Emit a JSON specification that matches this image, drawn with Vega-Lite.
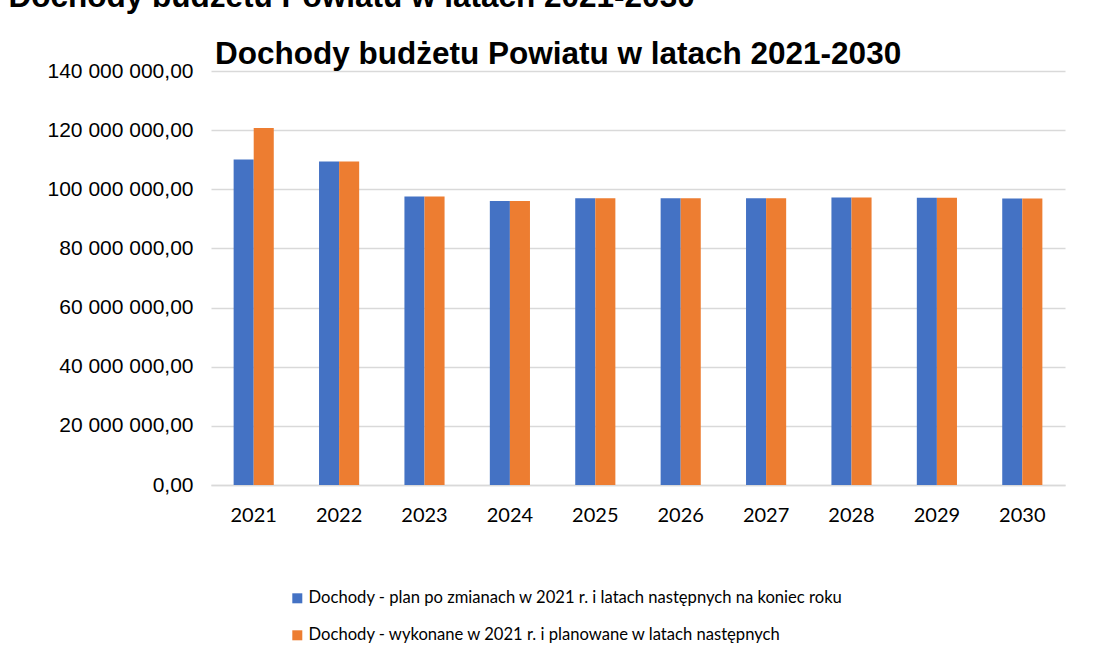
{
  "$schema": "https://vega.github.io/schema/vega-lite/v6.json",
  "autosize": {"type": "none"},
  "width": 854,
  "height": 414,
  "padding": {"left": 211, "top": 71, "right": 34, "bottom": 171},
  "background": "white",
  "title": {
    "text": "Dochody budżetu Powiatu w latach 2021-2030",
    "anchor": "start",
    "frame": "group",
    "font": "Liberation Sans",
    "fontSize": 31.5,
    "fontWeight": "bold",
    "color": "#000000",
    "baseline": "alphabetic",
    "offset": 8,
    "dx": 4,
    "dy": 122
  },
  "config": {
    "view": {"stroke": null},
    "axis": {"labelFont": "Liberation Sans", "labelColor": "#000000"},
    "legend": {"labelFont": "Lato", "labelColor": "#000000"}
  },
  "data": {
    "values": [
      {"rok": "2021", "seria": "Dochody - plan po zmianach w 2021 r. i latach następnych na koniec roku", "wartosc": 110100000},
      {"rok": "2021", "seria": "Dochody - wykonane w 2021 r. i planowane w latach następnych", "wartosc": 120700000},
      {"rok": "2022", "seria": "Dochody - plan po zmianach w 2021 r. i latach następnych na koniec roku", "wartosc": 109400000},
      {"rok": "2022", "seria": "Dochody - wykonane w 2021 r. i planowane w latach następnych", "wartosc": 109400000},
      {"rok": "2023", "seria": "Dochody - plan po zmianach w 2021 r. i latach następnych na koniec roku", "wartosc": 97600000},
      {"rok": "2023", "seria": "Dochody - wykonane w 2021 r. i planowane w latach następnych", "wartosc": 97600000},
      {"rok": "2024", "seria": "Dochody - plan po zmianach w 2021 r. i latach następnych na koniec roku", "wartosc": 96000000},
      {"rok": "2024", "seria": "Dochody - wykonane w 2021 r. i planowane w latach następnych", "wartosc": 96000000},
      {"rok": "2025", "seria": "Dochody - plan po zmianach w 2021 r. i latach następnych na koniec roku", "wartosc": 97000000},
      {"rok": "2025", "seria": "Dochody - wykonane w 2021 r. i planowane w latach następnych", "wartosc": 97000000},
      {"rok": "2026", "seria": "Dochody - plan po zmianach w 2021 r. i latach następnych na koniec roku", "wartosc": 97000000},
      {"rok": "2026", "seria": "Dochody - wykonane w 2021 r. i planowane w latach następnych", "wartosc": 97000000},
      {"rok": "2027", "seria": "Dochody - plan po zmianach w 2021 r. i latach następnych na koniec roku", "wartosc": 97000000},
      {"rok": "2027", "seria": "Dochody - wykonane w 2021 r. i planowane w latach następnych", "wartosc": 97000000},
      {"rok": "2028", "seria": "Dochody - plan po zmianach w 2021 r. i latach następnych na koniec roku", "wartosc": 97200000},
      {"rok": "2028", "seria": "Dochody - wykonane w 2021 r. i planowane w latach następnych", "wartosc": 97200000},
      {"rok": "2029", "seria": "Dochody - plan po zmianach w 2021 r. i latach następnych na koniec roku", "wartosc": 97100000},
      {"rok": "2029", "seria": "Dochody - wykonane w 2021 r. i planowane w latach następnych", "wartosc": 97100000},
      {"rok": "2030", "seria": "Dochody - plan po zmianach w 2021 r. i latach następnych na koniec roku", "wartosc": 96900000},
      {"rok": "2030", "seria": "Dochody - wykonane w 2021 r. i planowane w latach następnych", "wartosc": 96900000}
    ]
  },
  "mark": {"type": "bar"},
  "encoding": {
    "x": {
      "field": "rok",
      "type": "nominal",
      "scale": {"paddingInner": 0.53, "paddingOuter": 0.265},
      "axis": {
        "title": null,
        "labelAngle": 0,
        "labelFont": "Lato",
        "labelFontSize": 20,
        "labelPadding": 20,
        "ticks": false,
        "domainColor": "#d9d9d9",
        "domainWidth": 1.5
      }
    },
    "xOffset": {"field": "seria", "type": "nominal"},
    "y": {
      "field": "wartosc",
      "type": "quantitative",
      "scale": {"domain": [0, 140000000]},
      "axis": {
        "title": "Dochody budżetu Powiatu w latach 2021-2030",
        "titleAngle": 0,
        "titleX": -203,
        "titleY": -65,
        "titleAlign": "left",
        "titleBaseline": "alphabetic",
        "titleFont": "Liberation Sans",
        "titleFontSize": 31.5,
        "titleFontWeight": "bold",
        "titleColor": "#000000",
        "values": [0, 20000000, 40000000, 60000000, 80000000, 100000000, 120000000, 140000000],
        "labelExpr": "replace(replace(replace(replace(format(datum.value, ',.2f'), /,/g, ' '), '.', ','), ' ', ' '), ' ', ' ')",
        "labelFontSize": 21,
        "labelPadding": 18,
        "ticks": false,
        "domain": false,
        "gridColor": "#d9d9d9",
        "gridWidth": 1.5
      }
    },
    "color": {
      "field": "seria",
      "type": "nominal",
      "scale": {"range": ["#4472C4", "#ED7D31"]},
      "legend": {
        "title": null,
        "orient": "none",
        "legendX": 78,
        "legendY": 519,
        "direction": "vertical",
        "symbolType": "square",
        "symbolSize": 100,
        "symbolStrokeWidth": 0,
        "labelFontSize": 16.6,
        "labelOffset": 3,
        "rowPadding": 20,
        "padding": 0,
        "labelLimit": 800
      }
    }
  }
}
